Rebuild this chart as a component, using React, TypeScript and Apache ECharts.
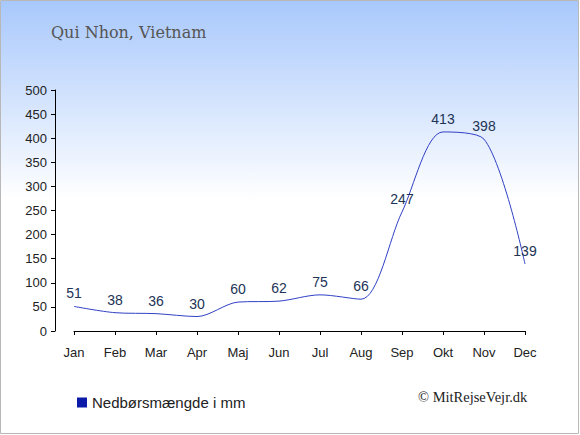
import React, { useEffect, useRef } from "react";
import * as echarts from "echarts";

const months = ["Jan", "Feb", "Mar", "Apr", "Maj", "Jun", "Jul", "Aug", "Sep", "Okt", "Nov", "Dec"];
const rainfall = [51, 38, 36, 30, 60, 62, 75, 66, 247, 413, 398, 139];
const seriesName = "Nedbørsmængde i mm";
const titleText = "Qui Nhon, Vietnam";
const creditText = "© MitRejseVejr.dk";

export default function App() {
  const ref = useRef<HTMLDivElement>(null);
  useEffect(() => {
    document.body.style.margin = "0";
    const chart = echarts.init(ref.current!, undefined, { renderer: "svg" });
    chart.setOption({
      animation: false,
      graphic: [
        {
          type: "rect",
          z: -10,
          silent: true,
          shape: { x: 0.5, y: 0.5, width: 578, height: 433 },
          style: {
            fill: new echarts.graphic.LinearGradient(0, 0, 0, 1, [
              { offset: 0, color: "#a8c8fc" },
              { offset: 0.46, color: "#ffffff" },
              { offset: 1, color: "#ffffff" },
            ]),
            stroke: "#b8b8b8",
            lineWidth: 1,
          },
        },
        {
          type: "text",
          x: 51,
          y: 32,
          style: {
            text: titleText,
            font: "16px 'DejaVu Serif'",
            fill: "#555555",
            textVerticalAlign: "middle",
          },
        },
        {
          type: "text",
          x: 418,
          y: 397,
          style: {
            text: creditText,
            font: "14.5px 'Liberation Serif'",
            fill: "#222222",
            textVerticalAlign: "middle",
          },
        },
      ],
      grid: { left: 74, right: 55, top: 90, bottom: 104 },
      legend: {
        left: 72,
        top: 390,
        icon: "rect",
        itemWidth: 10,
        itemHeight: 10,
        textStyle: { fontFamily: "Liberation Sans", fontSize: 15, color: "#222" },
        data: [seriesName],
      },
      xAxis: {
        type: "category",
        data: months,
        boundaryGap: false,
        offset: 10,
        axisLine: { show: true, lineStyle: { color: "#000", width: 1 } },
        axisTick: { show: true, length: 4, alignWithLabel: true, lineStyle: { color: "#000" } },
        axisLabel: { fontFamily: "Liberation Sans", fontSize: 13, color: "#222", margin: 5 },
        splitLine: { show: false },
      },
      yAxis: {
        type: "value",
        min: 0,
        max: 500,
        interval: 50,
        offset: 19,
        axisLine: { show: true, lineStyle: { color: "#000", width: 1 } },
        axisTick: { show: true, length: 4, lineStyle: { color: "#000" } },
        axisLabel: { fontFamily: "Liberation Sans", fontSize: 13, color: "#222", margin: 8 },
        splitLine: { show: false },
      },
      series: [
        {
          name: seriesName,
          type: "line",
          data: rainfall,
          smooth: 0.3,
          showSymbol: true,
          symbol: "circle",
          symbolSize: 0,
          itemStyle: { color: "#0b1aa8" },
          lineStyle: { color: "#3040c4", width: 1 },
          label: {
            show: true,
            position: "top",
            distance: 6,
            fontFamily: "Liberation Sans",
            fontSize: 14,
            color: "#223456",
          },
        },
      ],
    });
    return () => chart.dispose();
  }, []);
  return <div ref={ref} style={{ width: 580, height: 435 }} />;
}
